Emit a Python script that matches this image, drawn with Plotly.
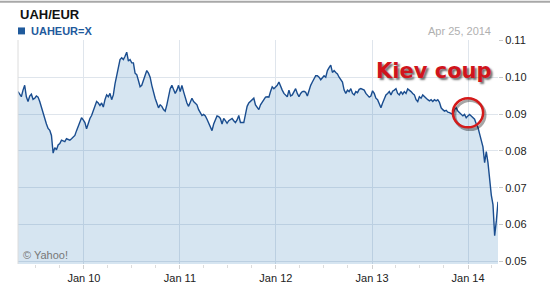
import pandas as pd
import plotly.graph_objects as go

# ---- data ----
start_date = "2009-04-25"
end_date = "2014-04-25"
rate_2009 = [0.0961, 0.0952, 0.0947, 0.0965, 0.0978, 0.0947, 0.0934, 0.0949, 0.0954, 0.0940,
             0.0943, 0.0949, 0.0946, 0.0934, 0.0917, 0.0904, 0.0886, 0.0873, 0.0861, 0.0856,
             0.0842, 0.0794, 0.0809, 0.0803, 0.0816, 0.0820, 0.0829, 0.0826, 0.0825, 0.0833,
             0.0831, 0.0829, 0.0833, 0.0838, 0.0842, 0.0855, 0.0868, 0.0882, 0.0890, 0.0884,
             0.0877, 0.0860, 0.0877, 0.0888, 0.0896, 0.0908, 0.0921, 0.0934, 0.0930, 0.0923,
             0.0930, 0.0919, 0.0939, 0.0952, 0.0947, 0.0956, 0.0939, 0.0952, 0.0982, 0.1004,
             0.1018, 0.1048, 0.1053, 0.1048, 0.1057, 0.1068, 0.1044, 0.1048, 0.1039, 0.1039]
rate_2010 = [0.1011, 0.1007, 0.0991, 0.0974, 0.0978, 0.0991, 0.1009, 0.1018, 0.1011, 0.1000,
             0.0978, 0.0956, 0.0943, 0.0930, 0.0917, 0.0925, 0.0921, 0.0912, 0.0908, 0.0925,
             0.0947, 0.0969, 0.0978, 0.0965, 0.0956, 0.0965, 0.0978, 0.0961, 0.0978, 0.0961,
             0.0943, 0.0930, 0.0921, 0.0930, 0.0943, 0.0934, 0.0930, 0.0925, 0.0912, 0.0904,
             0.0896, 0.0899, 0.0895, 0.0886, 0.0877, 0.0868, 0.0855, 0.0873, 0.0886, 0.0895,
             0.0893, 0.0888, 0.0873, 0.0888, 0.0882, 0.0875, 0.0882, 0.0886, 0.0888, 0.0882,
             0.0877, 0.0884, 0.0896, 0.0877, 0.0877, 0.0877, 0.0899, 0.0921, 0.0930, 0.0934,
             0.0939, 0.0943]
rate_2011 = [0.0925, 0.0917, 0.0912, 0.0925, 0.0932, 0.0937, 0.0946, 0.0947, 0.0946, 0.0961,
             0.0974, 0.0969, 0.0974, 0.0978, 0.0987, 0.0974, 0.0965, 0.0956, 0.0952, 0.0947,
             0.0965, 0.0949, 0.0952, 0.0961, 0.0969, 0.0956, 0.0947, 0.0956, 0.0961, 0.0962,
             0.0959, 0.0949, 0.0965, 0.0978, 0.0987, 0.0996, 0.1004, 0.1004, 0.1000, 0.0993,
             0.1000, 0.1004, 0.1000, 0.1018, 0.1026, 0.1033, 0.1013, 0.1018, 0.1013, 0.1009,
             0.1000, 0.0993, 0.0987, 0.0965, 0.0956, 0.0965, 0.0961, 0.0969, 0.0956, 0.0952,
             0.0961, 0.0958, 0.0967, 0.0969, 0.0967, 0.0965, 0.0956, 0.0952, 0.0946, 0.0949,
             0.0963, 0.0956]
rate_2013 = [0.0943, 0.0939, 0.0925, 0.0917, 0.0930, 0.0943, 0.0952, 0.0956, 0.0961, 0.0952,
             0.0962, 0.0965, 0.0969, 0.0956, 0.0952, 0.0961, 0.0954, 0.0961, 0.0956, 0.0968,
             0.0965, 0.0961, 0.0956, 0.0952, 0.0939, 0.0934, 0.0947, 0.0943, 0.0952, 0.0947,
             0.0943, 0.0939, 0.0936, 0.0939, 0.0934, 0.0939, 0.0936, 0.0939, 0.0932, 0.0917,
             0.0912, 0.0908, 0.0910, 0.0905, 0.0904, 0.0901, 0.0899, 0.0912, 0.0917, 0.0908,
             0.0904, 0.0899, 0.0895, 0.0899, 0.0890, 0.0895, 0.0899, 0.0895, 0.0890, 0.0886,
             0.0873, 0.0864, 0.0846, 0.0829, 0.0811, 0.0768, 0.0798, 0.0768, 0.0719, 0.0680,
             0.0654, 0.0570, 0.0610, 0.0662]
values = rate_2009 + rate_2010 + rate_2011 + rate_2013
dates = pd.date_range(start_date, end_date, periods=len(values))

y_ticks = [0.05, 0.06, 0.07, 0.08, 0.09, 0.10, 0.11]
title_text = "UAH/EUR"
legend_text = "UAHEUR=X"
date_text = "Apr 25, 2014"
credit_text = "© Yahoo!"
note_text = "Kiev coup"

LINE = "#1a4d8f"
FONT = "Arial, Liberation Sans, sans-serif"

fig = go.Figure()
fig.add_trace(go.Scatter(
    x=dates, y=values, mode="lines",
    line=dict(color=LINE, width=1.4),
    fill="tozeroy", fillcolor="rgba(30,110,180,0.18)",
    hoverinfo="skip", showlegend=False,
))

fig.update_layout(
    width=550, height=296,
    margin=dict(l=18, r=52, t=40, b=25),
    paper_bgcolor="white", plot_bgcolor="white",
    font=dict(family=FONT, size=11, color="#333"),
    xaxis=dict(
        range=[start_date, end_date],
        tickformat="%b %y", dtick="M12", tick0="2010-01-01",
        showgrid=True, gridcolor="#dfe5ec", gridwidth=1,
        ticks="outside", ticklen=4, tickcolor="#d0d0d0",
        minor=dict(dtick="M3", tick0="2010-01-01", ticks="outside", ticklen=3,
                   tickcolor="#dcdcdc", showgrid=False),
        showline=False, zeroline=False,
        tickfont=dict(size=11, color="#222"),
    ),
    yaxis=dict(
        range=[0.0493, 0.1101], side="right",
        tickvals=y_ticks, tickformat=".2f",
        showgrid=True, gridcolor="#dfe5ec", gridwidth=1,
        ticks="outside", ticklen=4, tickcolor="#c8c8c8",
        showline=False, zeroline=False,
        tickfont=dict(size=11, color="#222"),
    ),
    shapes=[
        dict(type="line", xref="paper", yref="paper", x0=-0.05, x1=1.2, y0=1.171, y1=1.171,
             line=dict(color="#a8a8a8", width=2)),
        dict(type="line", xref="paper", yref="paper", x0=0, x1=0, y0=0, y1=1,
             line=dict(color="#dcdcdc", width=1)),
        dict(type="rect", xref="paper", yref="paper", x0=0.0, x1=0.0146, y0=1.025, y1=1.056,
             fillcolor="#1f5a9c", line=dict(width=0)),
        dict(type="circle", xref="paper", yref="paper", x0=0.910, x1=0.973, y0=0.600, y1=0.730,
             line=dict(color="rgba(0,0,0,0.35)", width=3)),
        dict(type="circle", xref="paper", yref="paper", x0=0.906, x1=0.969, y0=0.610, y1=0.740,
             line=dict(color="#d41a1a", width=2.5)),
    ],
    annotations=[
        dict(text="<b>" + title_text + "</b>", xref="paper", yref="paper", x=0.0, y=1.07,
             xanchor="left", yanchor="bottom", showarrow=False,
             font=dict(size=13, color="#111")),
        dict(text="<b>" + legend_text + "</b>", xref="paper", yref="paper", x=0.022, y=1.04,
             xanchor="left", yanchor="middle", showarrow=False,
             font=dict(size=11, color="#1f5a9c")),
        dict(text=date_text, xref="paper", yref="paper", x=0.9896, y=1.04,
             xanchor="right", yanchor="middle", showarrow=False,
             font=dict(size=11, color="#b0b0b0")),
        dict(text=credit_text, xref="paper", yref="paper", x=0.006, y=0.04,
             xanchor="left", yanchor="middle", showarrow=False,
             font=dict(size=11, color="#777")),
        dict(text="<b>" + note_text + "</b>", xref="paper", yref="paper", x=0.8667, y=0.862,
             xanchor="center", yanchor="middle", showarrow=False,
             font=dict(size=21, color="#d0141c", family="DejaVu Sans, sans-serif",
                       shadow="2px 2px 2px rgba(0,0,0,0.55)")),
    ],
)

fig.write_html("out.html")
